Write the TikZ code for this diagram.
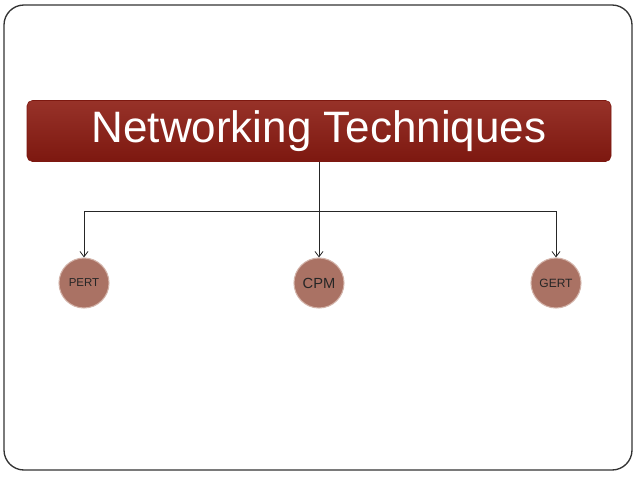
\documentclass[tikz,border=0pt]{standalone}
\usepackage{fontspec}
\setmainfont{Liberation Sans}
\usepackage{xcolor}
\usetikzlibrary{arrows.meta}

\definecolor{barred}{RGB}{142,32,22}
\definecolor{bardark}{RGB}{125,24,16}
\definecolor{ballbrown}{RGB}{170,114,100}
\definecolor{ballrim}{RGB}{210,178,168}

\begin{document}
\begin{tikzpicture}[
    x=0.75pt, y=-0.75pt,
    titlebar/.style={rectangle, draw=bardark, top color=barred!92!white, bottom color=bardark, rounded corners=4pt, minimum width=438pt, minimum height=45.75pt, text=white, font=\fontsize{33}{37}\selectfont},
    ball/.style={circle, draw=ballrim, line width=0.8pt, fill=ballbrown, minimum size=37.5pt, inner sep=0pt, text=black!85},
    arrow/.style={-{Straight Barb[length=4pt, width=6pt]}, line width=0.6pt, draw=black!85}
]
    \useasboundingbox (0,0) rectangle (638,479);
    % Frame
    \draw[line width=1pt, draw=black!80, rounded corners=15pt] (4,5) rectangle (632,470);

    % Nodes
    \node (title) [titlebar] at (319,131) {Networking Techniques};
    \node (pert) [ball, font=\fontsize{8.6}{10}\selectfont] at (84,283) {PERT};
    \node (cpm) [ball, font=\fontsize{11}{13}\selectfont] at (319,283) {CPM};
    \node (gert) [ball, font=\fontsize{9}{11}\selectfont] at (556,283) {GERT};
    \coordinate (hub) at (319,211);

    % Arrows
    \draw [arrow] (title.south) -- (cpm.north);
    \draw [arrow] (hub) -| (pert.north);
    \draw [arrow] (hub) -| (gert.north);
\end{tikzpicture}
\end{document}
